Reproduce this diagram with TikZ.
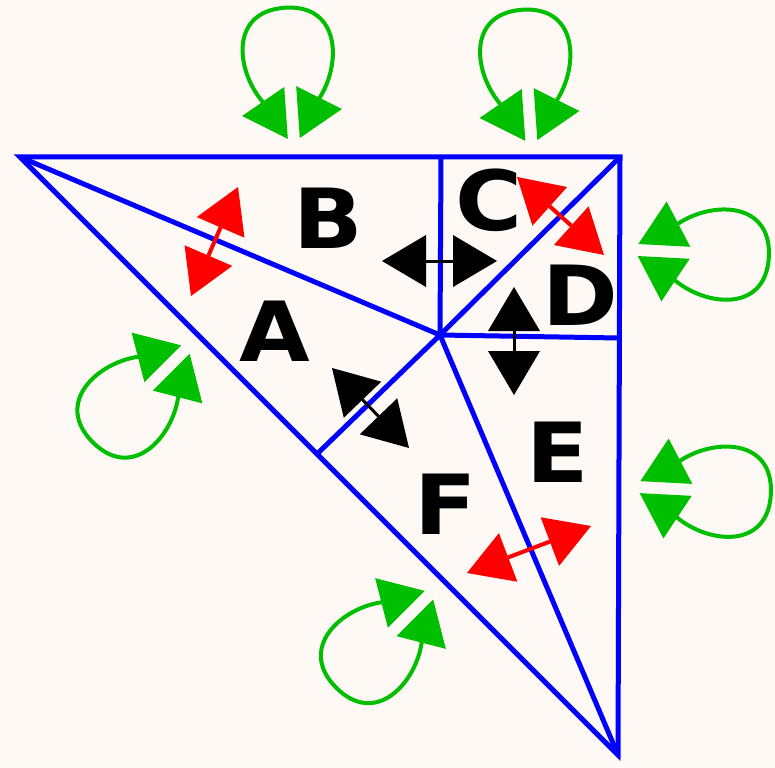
\documentclass[tikz,border=0pt]{standalone}
\usepackage{fontspec}
\setmainfont{DejaVu Sans}
\usetikzlibrary{arrows.meta}
\definecolor{bgc}{RGB}{254,249,244}
\definecolor{wblue}{RGB}{0,0,255}
\definecolor{lgreen}{RGB}{0,190,0}
\definecolor{lred}{RGB}{255,0,0}
\tikzset{
  wall/.style={draw=wblue, line width=5pt, line join=miter},
  lbl/.style={font=\fontsize{83}{83}\selectfont\bfseries, inner sep=0pt, xscale=1.1},
  link/.style={line width=3pt, {Triangle[length=44pt,width=52pt,line width=0pt]}-{Triangle[length=44pt,width=52pt,line width=0pt]}},
  blacklink/.style={link, draw=black, fill=black},
  redlink/.style={link, draw=lred, fill=lred, line width=4pt},
  selfloop/.pic={
    \fill[lgreen] (-50,0) -- (-6,-26) -- (-6,26) -- cycle;
    \fill[lgreen] (50,0) -- (6,-26) -- (6,26) -- cycle;
    \draw[lgreen, line width=4pt] (-28,-12) .. controls (-53,-45) and (-56,-105) .. (0,-105)
      .. controls (56,-105) and (53,-45) .. (28,-12);
  }
}
\begin{document}
\begin{tikzpicture}[x=1pt,y=-1pt]
\fill[bgc] (0,0) rectangle (775,767);
\useasboundingbox (0,0) rectangle (775,767);
% corner points
\coordinate (TL) at (20,157);
\coordinate (TR) at (620,157);
\coordinate (BR) at (618,755);
\coordinate (O) at (440,335);
\coordinate (Tm) at (441,157);
\coordinate (Rm) at (619,338);
\coordinate (Lm) at (317,454);
% walls
\draw[wall] (TL) -- (TR) -- (BR) -- cycle;
\draw[wall] (TL) -- (O) -- (BR);
\draw[wall] (Tm) -- (O) -- (Rm);
\draw[wall] (Lm) -- (O) -- (TR);
% labels
\node[lbl] (A) at (275,331) {A};
\node[lbl] (B) at (328,218) {B};
\node[lbl] (C) at (489,200) {C};
\node[lbl] (D) at (580,295) {D};
\node[lbl] (E) at (558,452) {E};
\node[lbl] (F) at (446,504) {F};
% links
\coordinate (ba1) at (191,296); \coordinate (ba2) at (238,187);
\coordinate (cd1) at (517,177); \coordinate (cd2) at (604,255);
\coordinate (fe1) at (467,573); \coordinate (fe2) at (591,526);
\coordinate (bc1) at (382,261); \coordinate (bc2) at (497,261);
\coordinate (de1) at (514,287); \coordinate (de2) at (514,395);
\coordinate (af1) at (332,368); \coordinate (af2) at (409,448);
\draw[redlink] (ba1) -- (ba2);
\draw[redlink] (cd1) -- (cd2);
\draw[redlink] (fe1) -- (fe2);
\draw[blacklink] (bc1) -- (bc2);
\draw[blacklink] (de1) -- (de2);
\draw[blacklink] (af1) -- (af2);
% self loops
\pic[rotate=4] (loopB) at (292,112.5) {selfloop};
\pic[rotate=4] (loopC) at (529.5,114.5) {selfloop};
\pic[rotate=-93] (loopD) at (664,251.4) {selfloop};
\pic[rotate=-93] (loopE) at (666,488.5) {selfloop};
\pic[rotate=135] (loopA) at (167,368) {selfloop};
\pic[rotate=135] (loopF) at (410.5,613.5) {selfloop};
\end{tikzpicture}
\end{document}
